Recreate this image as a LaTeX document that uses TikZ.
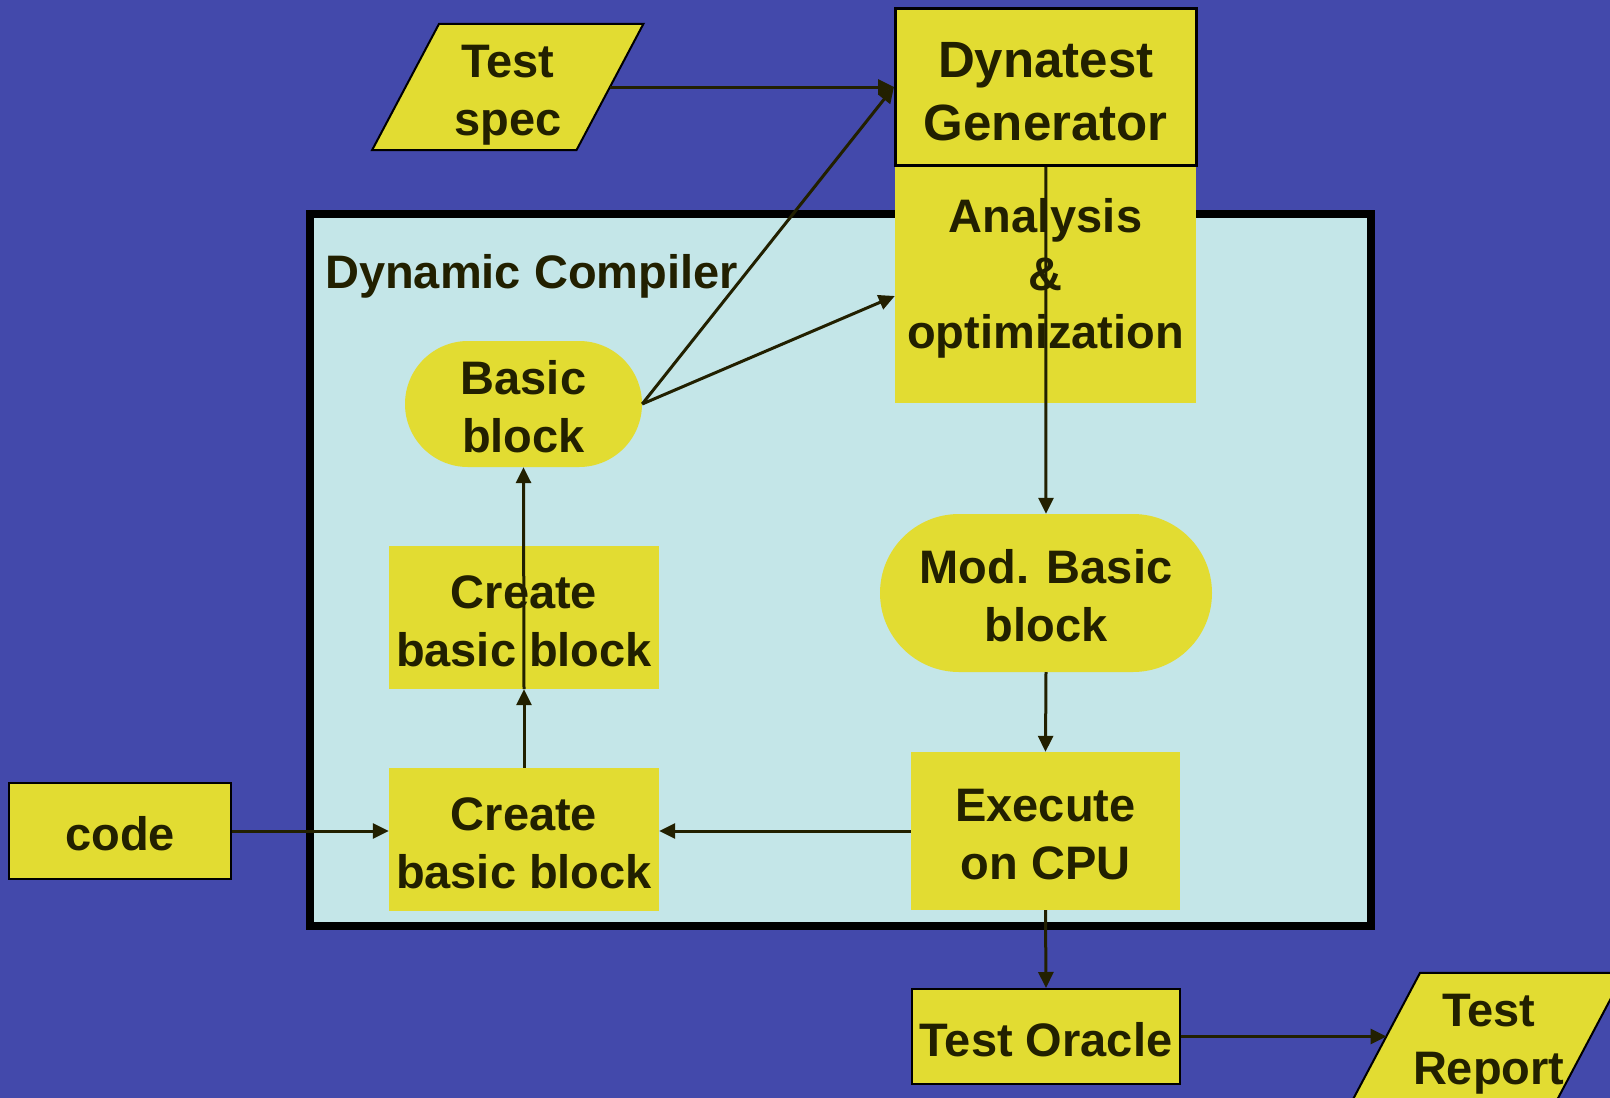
\documentclass[tikz,border=0pt]{standalone}
\usepackage{fontspec}
\setmainfont{Liberation Sans}
\usetikzlibrary{arrows.meta}
\definecolor{bgblue}{RGB}{67,73,171}
\definecolor{cpanel}{RGB}{196,230,232}
\definecolor{yell}{RGB}{226,220,50}
\definecolor{ink}{RGB}{34,32,0}
\pgfdeclarelayer{back}
\pgfsetlayers{back,main}
% centred stack of lines in a box of no size, so the node's own
% minimum width and height alone fix its outline
\newcommand{\ml}[1]{\raisebox{-0.31em}[0pt][0pt]{\begin{tabular}{@{}c@{}}#1\end{tabular}}}
\begin{document}
\begin{tikzpicture}[x=1pt,y=-1pt,
  txt/.style={font=\bfseries\fontsize{47}{58}\selectfont, text=ink, inner sep=0pt},
  yb/.style={txt, fill=yell, minimum width=#1},
  yb/.default=270pt,
  outlined/.style={draw=black, line width=2pt},
  stadium/.style={txt, fill=yell, rounded corners=#1},
  para/.style={fill=yell, draw=black, line width=2pt, line join=miter},
  arr/.style={draw=ink, line width=3pt, -{Triangle[length=16pt,width=15pt]}}
]
\clip (0,0) rectangle (1610,1098);
\begin{pgfonlayer}{back}
  \fill[bgblue] (0,0) rectangle (1610,1098);
\end{pgfonlayer}

% compiler frame
\draw[fill=cpanel, draw=black, line width=8pt] (310,214) rectangle (1370.5,926);
\node[txt, anchor=base west] (dclabel) at (325,288) {Dynamic Compiler};

% input / output parallelograms
\node[txt, minimum width=204pt, minimum height=126pt] (spec) at (507.75,87) {\ml{Test\\spec}};
\node[txt, minimum width=204pt, minimum height=126pt] (report) at (1488.75,1036) {\ml{Test\\Report}};
\begin{pgfonlayer}{back}
  \foreach \p in {spec,report}
    \draw[para] ([xshift=33.5pt]\p.north west) -- ([xshift=33.5pt]\p.north east)
      -- ([xshift=-33.5pt]\p.south east) -- ([xshift=-33.5pt]\p.south west) -- cycle;
\end{pgfonlayer}

% generator and analysis
\node[yb=301pt, minimum height=238pt] (ana) at (1045.5,284) {};
\node[txt] (anatext) at (1045.5,271) {\ml{Analysis\\\&\\optimization}};
\node[yb=300.5pt, minimum height=157.5pt, draw=black, line width=3pt,
      font=\bfseries\fontsize{51}{63}\selectfont] (dyn) at (1045.75,86.75) {\ml{Dynatest\\Generator}};

% basic blocks
\node[stadium=63pt, minimum width=237pt, minimum height=126pt] (bb) at (523.5,404) {\ml{Basic\\block}};
\node[yb, minimum height=143pt] (cb2) at (524,617.5) {\ml{Create\\basic block}};
\node[yb, minimum height=143pt] (cb1) at (524,839.5) {\ml{Create\\basic block}};
\node[yb=222pt, minimum height=96pt, outlined] (code) at (120,831) {\ml{code}};

\node[stadium=79pt, minimum width=332pt, minimum height=158pt] (mod) at (1046,593) {\ml{Mod. Basic\\block}};
\node[yb=269pt, minimum height=158pt] (exec) at (1045.5,831) {\ml{Execute\\on CPU}};
\node[yb=268pt, minimum height=95pt, outlined] (oracle) at (1046,1036.5) {\ml{Test Oracle}};

% connectors
\draw[arr] (spec.east) -- (spec.east -| dyn.west);
\draw[arr] (bb.east) -- (dyn.west);
\draw[arr] (bb.east) -- ([yshift=-12pt]ana.west);
\draw[arr] (dyn.south) -- (mod.north);
\draw[arr] (mod.south) -- (exec.north);
\draw[arr] (exec.west) -- (exec.west -| cb1.east);
\draw[arr] (exec.south) -- (oracle.north);
\draw[arr] (oracle.east) -- (oracle.east -| report.west);
\draw[arr] (code.east) -- (code.east -| cb1.west);
\draw[arr] (cb1.north) -- (cb2.south);
\draw[arr] (cb2.south) -- (bb.south);
\end{tikzpicture}
\end{document}
